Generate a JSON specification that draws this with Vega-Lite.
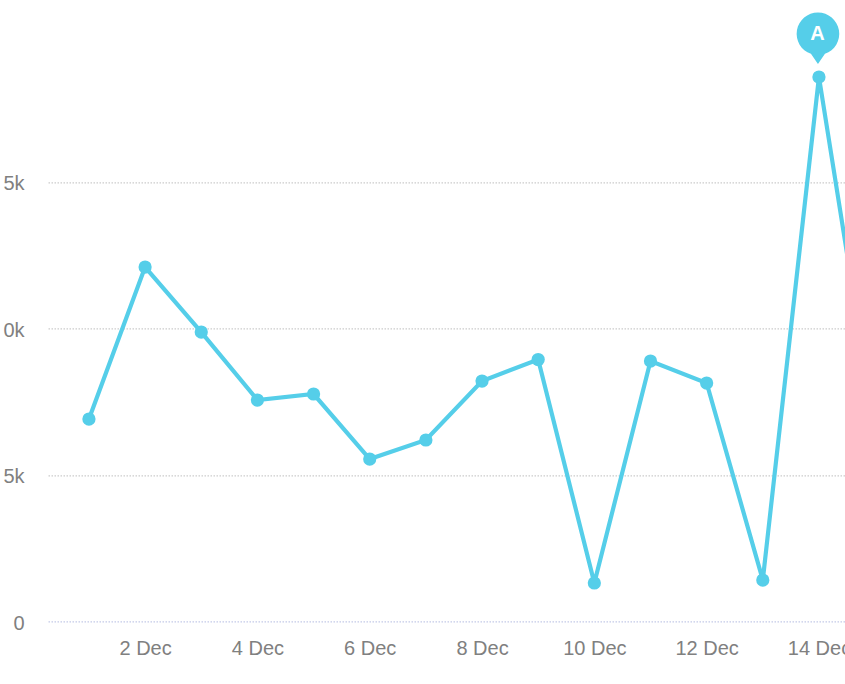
{"$schema":"https://vega.github.io/schema/vega-lite/v6.json","autosize":{"type":"none"},"padding":{"left":48,"top":35.4,"right":0,"bottom":62.3},"width":797,"height":586.3,"background":"white","config":{"view":{"stroke":null},"font":"Liberation Sans"},"data":{"values":[{"date":"2023-12-01T00:00:00","value":6914},{"date":"2023-12-02T00:00:00","value":12098},{"date":"2023-12-03T00:00:00","value":9881},{"date":"2023-12-04T00:00:00","value":7562},{"date":"2023-12-05T00:00:00","value":7767},{"date":"2023-12-06T00:00:00","value":5549},{"date":"2023-12-07T00:00:00","value":6198},{"date":"2023-12-08T00:00:00","value":8210},{"date":"2023-12-09T00:00:00","value":8943},{"date":"2023-12-10T00:00:00","value":1320},{"date":"2023-12-11T00:00:00","value":8892},{"date":"2023-12-12T00:00:00","value":8142},{"date":"2023-12-13T00:00:00","value":1422},{"date":"2023-12-14T00:00:00","value":18580,"flag":"A"},{"date":"2023-12-15T00:00:00","value":6530}]},"encoding":{"x":{"field":"date","type":"temporal","title":null,"scale":{"domain":[{"year":2023,"month":11,"date":30,"hours":6,"minutes":30},{"year":2023,"month":12,"date":14,"hours":11,"minutes":8}],"nice":false},"axis":{"values":[{"year":2023,"month":12,"date":2},{"year":2023,"month":12,"date":4},{"year":2023,"month":12,"date":6},{"year":2023,"month":12,"date":8},{"year":2023,"month":12,"date":10},{"year":2023,"month":12,"date":12},{"year":2023,"month":12,"date":14}],"format":"%-d %b","grid":false,"domain":false,"ticks":false,"labelFontSize":20,"labelColor":"#808080","labelPadding":17,"labelBound":false,"labelFlush":false,"labelOverlap":false}},"y":{"field":"value","type":"quantitative","title":null,"scale":{"domain":[0,20000],"nice":false},"axis":{"values":[0,5000,10000,15000],"labelExpr":"datum.value === 0 ? '0' : slice(toString(datum.value / 1000) + 'k', -2)","grid":true,"gridColor":{"condition":{"test":"datum.value === 0","value":"#c3c9e8"},"value":"#cccccc"},"gridDash":[1.5,1.5],"gridWidth":1.2,"domain":false,"ticks":false,"labelFontSize":20,"labelColor":"#808080","labelPadding":24,"labelOffset":1.5,"labelBound":false,"labelFlush":false,"labelOverlap":false}}},"layer":[{"mark":{"type":"line","color":"#55cee9","strokeWidth":4.2,"clip":true}},{"mark":{"type":"point","filled":true,"opacity":1,"color":"#55cee9","size":175,"clip":true}},{"transform":[{"filter":"datum.flag"}],"mark":{"type":"point","filled":true,"opacity":1,"color":"#55cee9","size":4,"shape":"M-1,-13 L6,-23.2 A21.3,21.3,0,1,0,-8,-23.2 Z"}},{"transform":[{"filter":"datum.flag"}],"mark":{"type":"text","color":"white","fontWeight":"bold","fontSize":20,"dy":-43,"dx":-1.5,"align":"center","baseline":"middle"},"encoding":{"text":{"field":"flag"}}}]}
